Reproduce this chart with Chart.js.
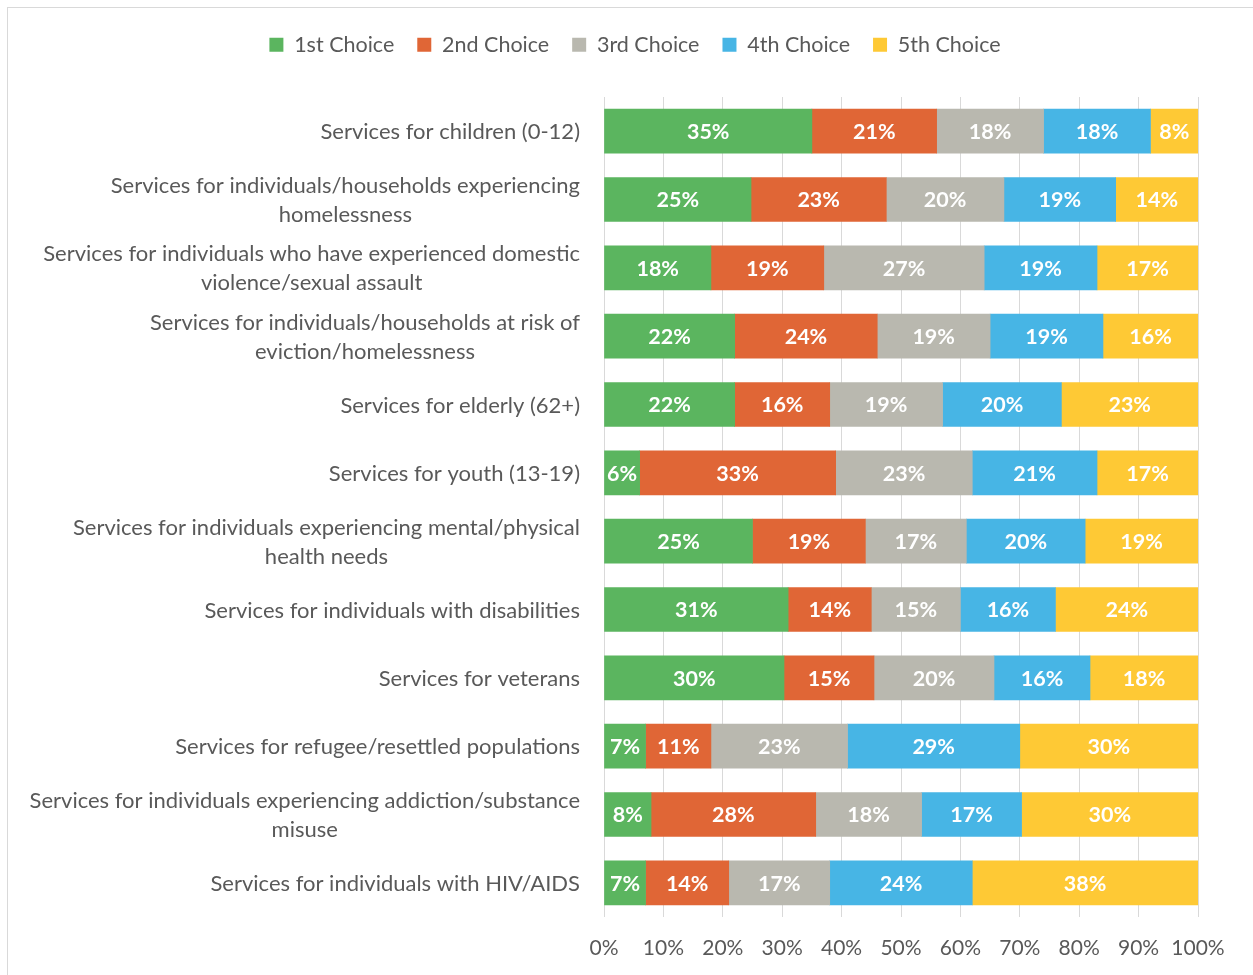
<!DOCTYPE html>
<html>
<head>
<meta charset="utf-8">
<script src="https://cdn.jsdelivr.net/npm/chart.js@4.4.1/dist/chart.umd.min.js"></script>
<style>
  html, body { margin: 0; padding: 0; background: #fff; overflow: hidden; }
  #wrap { position: relative; width: 1253px; height: 975px; }
  #frame { position: absolute; left: 7px; top: 7px; width: 1300px; height: 1100px;
           border: 1px solid #d9d9d9; box-sizing: border-box; pointer-events: none; }
  canvas { position: absolute; left: 0; top: 0; }
</style>
</head>
<body>
<div id="wrap">
  <div id="frame"></div>
  <canvas id="chart" width="1253" height="975"></canvas>
</div>
<script>
const FONT = 'Lato';

const categories = [
  ['Services for children (0-12)'],
  ['Services for individuals/households experiencing', 'homelessness'],
  ['Services for individuals who have experienced domestic', 'violence/sexual assault'],
  ['Services for individuals/households at risk of', 'eviction/homelessness'],
  ['Services for elderly (62+)'],
  ['Services for youth (13-19)'],
  ['Services for individuals experiencing mental/physical', 'health needs'],
  ['Services for individuals with disabilities'],
  ['Services for veterans'],
  ['Services for refugee/resettled populations'],
  ['Services for individuals experiencing addiction/substance', 'misuse'],
  ['Services for individuals with HIV/AIDS']
];

const seriesNames = ['1st Choice', '2nd Choice', '3rd Choice', '4th Choice', '5th Choice'];
const seriesColors = ['#5bb55f', '#e06636', '#b9b8af', '#47b5e5', '#fec935'];

const firstChoice  = [35, 25, 18, 22, 22,  6, 25, 31, 30,  7,  8,  7];
const secondChoice = [21, 23, 19, 24, 16, 33, 19, 14, 15, 11, 28, 14];
const thirdChoice  = [18, 20, 27, 19, 19, 23, 17, 15, 20, 23, 18, 17];
const fourthChoice = [18, 19, 19, 19, 20, 21, 20, 16, 16, 29, 17, 24];
const fifthChoice  = [ 8, 14, 17, 16, 23, 17, 19, 24, 18, 30, 30, 38];

const xTicks = [0, 10, 20, 30, 40, 50, 60, 70, 80, 90, 100];

const allSeries = [firstChoice, secondChoice, thirdChoice, fourthChoice, fifthChoice];
// each row is shown as a share of its own total so every bar spans 0–100%
const rowTotals = categories.map((_, i) => allSeries.reduce((s, arr) => s + arr[i], 0));

const datasets = allSeries.map((arr, k) => ({
  label: seriesNames[k],
  data: arr.map((v, i) => v / rowTotals[i] * 100),
  rawValues: arr,
  backgroundColor: seriesColors[k],
  borderWidth: 0,
  barThickness: 44
}));

// white bold value labels centred in each segment
const valueLabels = {
  id: 'valueLabels',
  afterDatasetsDraw(chart) {
    const ctx = chart.ctx;
    ctx.save();
    ctx.font = 'bold 21.5px ' + FONT;
    ctx.fillStyle = '#ffffff';
    ctx.textAlign = 'center';
    ctx.textBaseline = 'middle';
    chart.data.datasets.forEach((ds, di) => {
      const meta = chart.getDatasetMeta(di);
      meta.data.forEach((el, i) => {
        const cx = (el.x + el.base) / 2;
        ctx.fillText(ds.rawValues[i] + '%', cx, el.y + 1);
      });
    });
    ctx.restore();
  }
};

// category labels: block right-aligned to the axis, lines centred within the block
const categoryLabels = {
  id: 'categoryLabels',
  afterDraw(chart) {
    const ctx = chart.ctx;
    const yScale = chart.scales.y;
    const right = chart.chartArea.left - 24;
    const lineH = 29;
    ctx.save();
    ctx.font = '22px ' + FONT;
    ctx.fillStyle = '#595959';
    ctx.textAlign = 'center';
    ctx.textBaseline = 'middle';
    categories.forEach((lines, i) => {
      const y = yScale.getPixelForTick(i);
      const w = Math.max(...lines.map(l => ctx.measureText(l).width));
      const cx = right - w / 2;
      const y0 = y - (lines.length - 1) * lineH / 2;
      lines.forEach((l, j) => ctx.fillText(l, cx, y0 + j * lineH + 1));
    });
    ctx.restore();
  }
};

const legendHeight = {
  id: 'legendHeight',
  beforeInit(chart) {
    const fit = chart.legend.fit;
    chart.legend.fit = function () {
      fit.call(this);
      this.height = 86;
    };
  }
};

new Chart(document.getElementById('chart'), {
  type: 'bar',
  data: { labels: categories.map(c => c.join(' ')), datasets },
  plugins: [legendHeight, valueLabels, categoryLabels],
  options: {
    indexAxis: 'y',
    responsive: false,
    animation: false,
    layout: { padding: { top: 11, left: 72, right: 55, bottom: 0 } },
    plugins: {
      legend: {
        position: 'top',
        labels: {
          boxWidth: 14,
          boxHeight: 14,
          padding: 23,
          color: '#595959',
          font: { family: FONT, size: 21.5 }
        }
      },
      tooltip: { enabled: false }
    },
    scales: {
      x: {
        stacked: true,
        min: 0,
        max: 100,
        afterBuildTicks(scale) { scale.ticks = xTicks.map(v => ({ value: v })); },
        afterFit(scale) { scale.height = 58; },
        grid: { color: '#d9d9d9', lineWidth: 1, drawTicks: false },
        border: { display: false },
        ticks: {
          padding: 19,
          color: '#595959',
          font: { family: FONT, size: 21 },
          callback: v => v + '%'
        }
      },
      y: {
        stacked: true,
        afterFit(scale) { scale.width = 532; },
        grid: { display: false, drawTicks: false },
        border: { display: false },
        ticks: { display: false }
      }
    }
  }
});
</script>
</body>
</html>
